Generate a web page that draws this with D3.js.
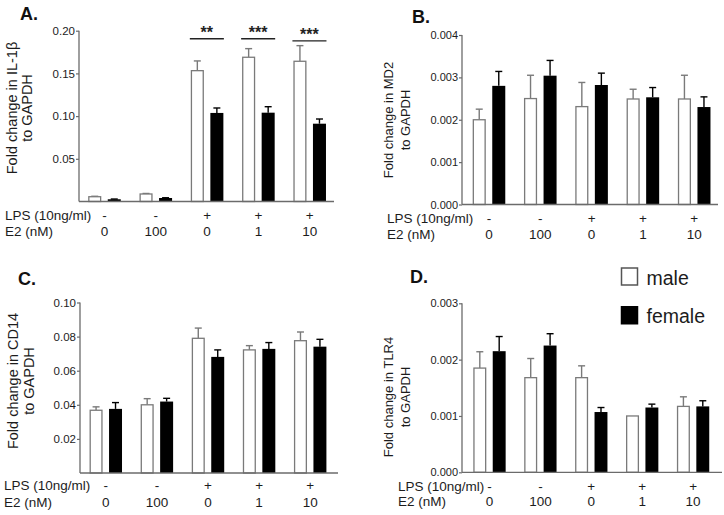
<!DOCTYPE html>
<html><head><meta charset="utf-8">
<script src="https://cdn.jsdelivr.net/npm/d3@7"></script>
<style>
html,body{margin:0;padding:0;background:#fff;}
svg{display:block;font-family:"Liberation Sans",Arial,sans-serif;}
</style></head>
<body>
<svg id="chart" width="724" height="515"></svg>
<script>
// ---------------- DATA ----------------
const groups = ["g1", "g2", "g3", "g4", "g5"];
const lpsLabels = ["-", "-", "+", "+", "+"];
const e2Labels = ["0", "100", "0", "1", "10"];
const series = ["male", "female"];
const rowLabels = ["LPS (10ng/ml)", "E2 (nM)"];

// A: IL-1β
const il1bMale = [0.0056, 0.0088, 0.1532, 0.1689, 0.1642];
const il1bMaleErr = [0.0005, 0.0006, 0.0114, 0.0101, 0.0183];
const il1bFemale = [0.0026, 0.0041, 0.1037, 0.1040, 0.0911];
const il1bFemaleErr = [0.0003, 0.0003, 0.0058, 0.0070, 0.0055];
const il1bSig = [{g: "g3", label: "**", y: 0.1906}, {g: "g4", label: "***", y: 0.1906}, {g: "g5", label: "***", y: 0.1880}];

// B: MD2
const md2Male = [0.00200, 0.00250, 0.00231, 0.00249, 0.00249];
const md2MaleErr = [0.00025, 0.00055, 0.00057, 0.00023, 0.00056];
const md2Female = [0.00280, 0.00304, 0.00282, 0.00253, 0.00230];
const md2FemaleErr = [0.00034, 0.00036, 0.00028, 0.00023, 0.00024];

// C: CD14
const cd14Male = [0.0368, 0.0400, 0.0790, 0.0722, 0.0776];
const cd14MaleErr = [0.0020, 0.0036, 0.0060, 0.0025, 0.0051];
const cd14Female = [0.0376, 0.0419, 0.0681, 0.0728, 0.0741];
const cd14FemaleErr = [0.0037, 0.0019, 0.0041, 0.0037, 0.0043];

// D: TLR4
const tlr4Male = [0.00185, 0.00168, 0.00168, 0.00100, 0.00117];
const tlr4MaleErr = [0.00029, 0.00034, 0.00021, 0.0, 0.00017];
const tlr4Female = [0.00215, 0.00225, 0.00107, 0.00115, 0.00117];
const tlr4FemaleErr = [0.00026, 0.00021, 0.00008, 0.00006, 0.00010];

// tick values
const ticksA = [0.05, 0.10, 0.15, 0.20];
const ticksB = [0, 0.001, 0.002, 0.003, 0.004];
const ticksC = [0.02, 0.04, 0.06, 0.08, 0.10];
const ticksD = [0, 0.001, 0.002, 0.003];

const legendLabels = ["male", "female"];

// ---------------- LAYOUT ----------------
const panels = [
  {letter: "A.", ylab: ["Fold change in IL-1β", "to GAPDH"], male: il1bMale, maleErr: il1bMaleErr, female: il1bFemale, femaleErr: il1bFemaleErr,
   max: 0.2, ticks: ticksA, fmt: ".2f", sig: il1bSig,
   x0: 79, x1: 334, g1: 104.5, step: 51.3, y0: 201.5, yTop: 30.7,
   tickFont: 11.5, ylabFont: 14.5, yl1: 16.5, yl2: 32, ylCy: 108, lx: 20, ly: 20, lpsY: 219.5, e2Y: 236, rowX: 5},
  {letter: "B.", ylab: ["Fold change in MD2", "to GAPDH"], male: md2Male, maleErr: md2MaleErr, female: md2Female, femaleErr: md2FemaleErr,
   max: 0.004, ticks: ticksB, fmt: ".3f", sig: [],
   x0: 462, x1: 718, g1: 489, step: 51.3, y0: 204.5, yTop: 35,
   tickFont: 11, ylabFont: 13, yl1: 393, yl2: 410, ylCy: 120, lx: 412, ly: 23, lpsY: 223, e2Y: 238.5, rowX: 387},
  {letter: "C.", ylab: ["Fold change in CD14", "to GAPDH"], male: cd14Male, maleErr: cd14MaleErr, female: cd14Female, femaleErr: cd14FemaleErr,
   max: 0.1, ticks: ticksC, fmt: ".2f", sig: [],
   x0: 80, x1: 338, g1: 105.8, step: 51.1, y0: 473, yTop: 302.5,
   tickFont: 11.5, ylabFont: 14.5, yl1: 18, yl2: 34, ylCy: 381, lx: 18, ly: 285, lpsY: 490, e2Y: 506.5, rowX: 4},
  {letter: "D.", ylab: ["Fold change in TLR4", "to GAPDH"], male: tlr4Male, maleErr: tlr4MaleErr, female: tlr4Female, femaleErr: tlr4FemaleErr,
   max: 0.003, ticks: ticksD, fmt: ".3f", sig: [],
   x0: 462, x1: 722, g1: 489.5, step: 50.9, y0: 472.3, yTop: 303.3,
   tickFont: 11, ylabFont: 13, yl1: 393, yl2: 410, ylCy: 397, lx: 410, ly: 283, lpsY: 491, e2Y: 506, rowX: 398}
];

const svg = d3.select("#chart");
const AXIS = "#6b6b6b";
const TEXT = "#1c1c1c";
const BAR_STROKE = "#7a7a7a";

panels.forEach(p => {
  const g = svg.append("g");
  const x = d3.scaleBand().domain(groups)
    .range([p.g1 - p.step / 2, p.g1 - p.step / 2 + p.step * groups.length]).padding(0);
  const xs = d3.scaleBand().domain(series).range([0, x.bandwidth()])
    .paddingInner(1 / 3).paddingOuter(0.48);
  const y = d3.scaleLinear().domain([0, p.max]).range([p.y0, p.yTop]);

  const rows = groups.map((gr, i) => ([
    {g: gr, s: "male", v: p.male[i], e: p.maleErr[i]},
    {g: gr, s: "female", v: p.female[i], e: p.femaleErr[i]}
  ])).flat();

  // error bars (upward only)
  const eb = g.append("g");
  rows.forEach(d => {
    if (d.e <= 0) return;
    const cx = x(d.g) + xs(d.s) + xs.bandwidth() / 2;
    const col = d.s === "male" ? BAR_STROKE : "#000";
    eb.append("line").attr("x1", cx).attr("x2", cx).attr("y1", y(d.v)).attr("y2", y(d.v + d.e))
      .attr("stroke", col).attr("stroke-width", 1.4);
    eb.append("line").attr("x1", cx - 3.5).attr("x2", cx + 3.5).attr("y1", y(d.v + d.e)).attr("y2", y(d.v + d.e))
      .attr("stroke", col).attr("stroke-width", 1.4);
  });

  // bars
  g.append("g").selectAll("rect").data(rows).join("rect")
    .attr("x", d => x(d.g) + xs(d.s) + (d.s === "male" ? 0.6 : 0))
    .attr("width", d => xs.bandwidth() - (d.s === "male" ? 1.2 : 0))
    .attr("y", d => y(d.v))
    .attr("height", d => p.y0 - y(d.v))
    .attr("fill", d => d.s === "male" ? "#fff" : "#000")
    .attr("stroke", d => d.s === "male" ? BAR_STROKE : "#000")
    .attr("stroke-width", d => d.s === "male" ? 1.3 : 0);

  // y axis
  const ya = g.append("g").attr("transform", `translate(${p.x0},0)`)
    .call(d3.axisLeft(y).tickValues(p.ticks).tickFormat(d3.format(p.fmt)).tickSize(3).tickSizeOuter(0).tickPadding(1));
  ya.select(".domain").attr("stroke", AXIS).attr("stroke-width", 1.3)
    .attr("d", `M0,${p.y0}V${p.yTop}`);
  ya.selectAll(".tick line").attr("stroke", AXIS).attr("stroke-width", 1.2);
  ya.selectAll(".tick text").attr("fill", TEXT).attr("font-size", p.tickFont)
    .attr("font-family", "Liberation Sans, Arial, sans-serif");

  // x axis line
  g.append("line").attr("x1", p.x0).attr("x2", p.x1).attr("y1", p.y0).attr("y2", p.y0)
    .attr("stroke", AXIS).attr("stroke-width", 1.3);

  // row labels
  g.append("text").attr("x", p.rowX).attr("y", p.lpsY).attr("font-size", 13.5).attr("fill", TEXT).text(rowLabels[0]);
  g.append("text").attr("x", p.rowX).attr("y", p.e2Y).attr("font-size", 13.5).attr("fill", TEXT).text(rowLabels[1]);
  g.append("g").selectAll("text").data(groups).join("text")
    .attr("x", d => x(d) + x.bandwidth() / 2).attr("y", p.lpsY)
    .attr("text-anchor", "middle").attr("font-size", 13.5).attr("fill", TEXT)
    .text((d, i) => lpsLabels[i]);
  g.append("g").selectAll("text").data(groups).join("text")
    .attr("x", d => x(d) + x.bandwidth() / 2).attr("y", p.e2Y)
    .attr("text-anchor", "middle").attr("font-size", 13.5).attr("fill", TEXT)
    .text((d, i) => e2Labels[i]);

  // y label (two lines, rotated)
  [p.yl1, p.yl2].forEach((bx, i) => {
    g.append("text").attr("transform", `translate(${bx},${p.ylCy}) rotate(-90)`)
      .attr("text-anchor", "middle").attr("font-size", p.ylabFont).attr("fill", TEXT)
      .text(p.ylab[i]);
  });

  // panel letter
  g.append("text").attr("x", p.lx).attr("y", p.ly).attr("font-size", 18).attr("font-weight", "bold")
    .attr("fill", "#111").text(p.letter);

  // significance
  p.sig.forEach(s => {
    const xl = x(s.g) + xs("male") - 1;
    const xr = x(s.g) + xs("female") + xs.bandwidth() + 0.5;
    g.append("line").attr("x1", xl).attr("x2", xr).attr("y1", y(s.y)).attr("y2", y(s.y))
      .attr("stroke", "#222").attr("stroke-width", 1.3);
    g.append("text").attr("x", (xl + xr) / 2).attr("y", y(s.y) - 0.5)
      .attr("text-anchor", "middle").attr("font-size", 16).attr("font-weight", "bold")
      .attr("fill", "#222").text(s.label);
  });
});

// legend
const lg = svg.append("g");
const legY = d3.scaleBand().domain(legendLabels).range([268, 330]).paddingInner(0.4);
legendLabels.forEach((s, i) => {
  lg.append("rect").attr("x", 621.5).attr("y", legY(s)).attr("width", 16).attr("height", 17)
    .attr("fill", i === 0 ? "#fff" : "#000").attr("stroke", i === 0 ? "#555" : "#000").attr("stroke-width", 1.5);
  lg.append("text").attr("x", 646.5).attr("y", legY(s) + 16.5).attr("font-size", 19.5).attr("fill", TEXT).text(s);
});
</script>
</body></html>
